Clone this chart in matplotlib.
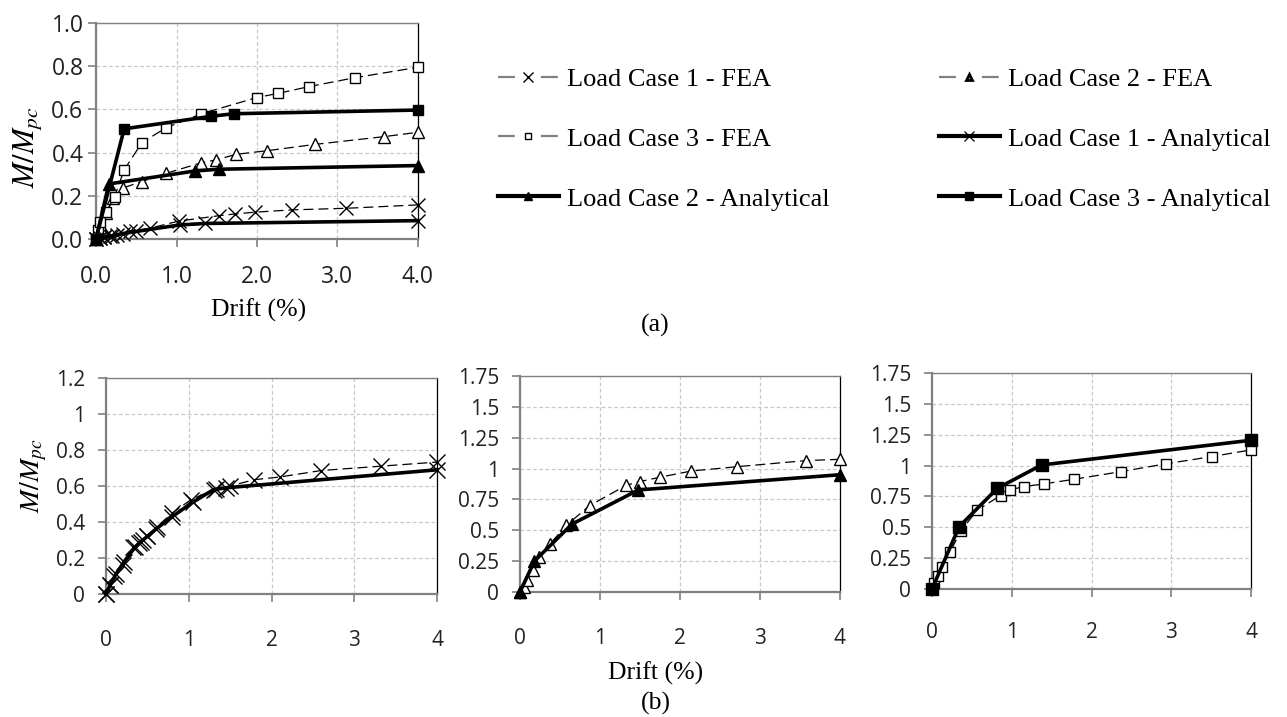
import matplotlib
matplotlib.use("Agg")
import matplotlib.pyplot as plt
from matplotlib.lines import Line2D
from matplotlib.ticker import FixedLocator, FixedFormatter

# ---------------- data ----------------
# (a) all load cases
a_fea1_x = [0, 0.05, 0.1, 0.17, 0.26, 0.42, 0.67, 1.03, 1.53, 1.73, 1.97, 2.44, 3.1, 4.0]
a_fea1_y = [0, 0.005, 0.01, 0.015, 0.02, 0.035, 0.05, 0.083, 0.108, 0.116, 0.124, 0.135, 0.142, 0.158]
a_an1_x = [0, 0.05, 0.1, 0.2, 0.33, 0.5, 1.04, 1.36, 4.0]
a_an1_y = [0, 0.003, 0.008, 0.015, 0.025, 0.035, 0.065, 0.072, 0.085]
a_fea2_x = [0, 0.02, 0.05, 0.13, 0.21, 0.34, 0.57, 0.87, 1.31, 1.49, 1.74, 2.13, 2.72, 3.58, 4.0]
a_fea2_y = [0, 0.03, 0.07, 0.12, 0.19, 0.237, 0.266, 0.304, 0.353, 0.366, 0.392, 0.409, 0.438, 0.474, 0.494]
a_an2_x = [0, 0.16, 1.23, 1.53, 4.0]
a_an2_y = [0, 0.255, 0.315, 0.323, 0.34]
a_fea3_x = [0, 0.02, 0.05, 0.13, 0.23, 0.35, 0.57, 0.87, 1.31, 2.0, 2.26, 2.64, 3.22, 4.0]
a_fea3_y = [0, 0.04, 0.077, 0.125, 0.196, 0.32, 0.446, 0.515, 0.58, 0.655, 0.674, 0.705, 0.747, 0.795]
a_an3_x = [0, 0.35, 1.43, 1.71, 4.0]
a_an3_y = [0, 0.51, 0.568, 0.58, 0.597]

# (b) individual cases (normalised differently)
b_fea1_x = [0, 0.05, 0.1, 0.21, 0.33, 0.4, 0.45, 0.5, 0.62, 0.8, 1.03, 1.33, 1.5, 1.79, 2.1, 2.6, 3.32, 4.0]
b_fea1_y = [0, 0.05, 0.1, 0.16, 0.26, 0.285, 0.3, 0.32, 0.375, 0.45, 0.525, 0.585, 0.6, 0.635, 0.65, 0.686, 0.71, 0.733]
b_an1_x = [0, 0.05, 0.12, 0.22, 0.35, 0.42, 0.5, 0.6, 0.8, 1.05, 1.3, 1.45, 4.0]
b_an1_y = [0, 0.05, 0.11, 0.18, 0.26, 0.29, 0.32, 0.36, 0.43, 0.51, 0.58, 0.59, 0.69]
b_fea2_x = [0, 0.05, 0.09, 0.16, 0.24, 0.375, 0.58, 0.87, 1.33, 1.5, 1.75, 2.14, 2.71, 3.58, 4.0]
b_fea2_y = [0, 0.04, 0.1, 0.18, 0.28, 0.39, 0.54, 0.70, 0.865, 0.895, 0.93, 0.98, 1.015, 1.065, 1.075]
b_an2_x = [0, 0.18, 0.65, 1.48, 4.0]
b_an2_y = [0, 0.25, 0.55, 0.827, 0.95]
b_fea3_x = [0, 0.025, 0.07, 0.12, 0.23, 0.36, 0.57, 0.86, 0.98, 1.15, 1.40, 1.78, 2.37, 2.93, 3.51, 4.0]
b_fea3_y = [0, 0.046, 0.105, 0.181, 0.303, 0.47, 0.64, 0.757, 0.803, 0.83, 0.851, 0.889, 0.951, 1.014, 1.073, 1.127]
b_an3_x = [0, 0.34, 0.82, 1.375, 4.0]
b_an3_y = [0, 0.505, 0.816, 1.005, 1.205]

legend_labels = ["Load Case 1 - FEA", "Load Case 3 - FEA", "Load Case 2 - Analytical",
                 "Load Case 2 - FEA", "Load Case 1 - Analytical", "Load Case 3 - Analytical"]

a_xticks = [0, 1, 2, 3, 4]
a_xticklabels = ["0.0", "1.0", "2.0", "3.0", "4.0"]
a_yticks = [0, 0.2, 0.4, 0.6, 0.8, 1.0]
a_yticklabels = ["0.0", "0.2", "0.4", "0.6", "0.8", "1.0"]
b_xticks = [0, 1, 2, 3, 4]
b_xticklabels = ["0", "1", "2", "3", "4"]
b1_yticks = [0, 0.2, 0.4, 0.6, 0.8, 1.0, 1.2]
b1_yticklabels = ["0", "0.2", "0.4", "0.6", "0.8", "1", "1.2"]
b23_yticks = [0, 0.25, 0.5, 0.75, 1.0, 1.25, 1.5, 1.75]
b23_yticklabels = ["0", "0.25", "0.5", "0.75", "1", "1.25", "1.5", "1.75"]

# ---------------- style ----------------
plt.rcParams["mathtext.fontset"] = "stix"
TICKFONT = "Open Sans"
SERIF = "Liberation Serif"
W, H = 1287, 717
fig = plt.figure(figsize=(W / 100, H / 100), dpi=100)


def ax_rect(l, t, r, b):
    return [l / W, (H - b) / H, (r - l) / W, (b - t) / H]


def style_axes(ax, xt, xtl, yt, ytl, ymax, fs, xpad, ypad):
    ax.set_xlim(0, 4)
    ax.set_ylim(0, ymax)
    ax.xaxis.set_major_locator(FixedLocator(xt))
    ax.xaxis.set_major_formatter(FixedFormatter(xtl))
    ax.yaxis.set_major_locator(FixedLocator(yt))
    ax.yaxis.set_major_formatter(FixedFormatter(ytl))
    ax.grid(True, color="#c8c8c8", linestyle=(0, (3, 2)), linewidth=0.9)
    ax.set_axisbelow(True)
    for s in ("left", "bottom"):
        ax.spines[s].set_color("#808080")
        ax.spines[s].set_linewidth(1.6)
    ax.spines["top"].set_color("#808080")
    ax.spines["top"].set_linewidth(1.0)
    ax.spines["right"].set_color("black")
    ax.spines["right"].set_linewidth(0.9)
    ax.tick_params(axis="x", direction="out", length=6, width=1.2, color="#808080",
                   pad=xpad, labelsize=fs, labelcolor="#222222")
    ax.tick_params(axis="y", direction="out", length=6, width=1.2, color="#808080",
                   pad=ypad, labelsize=fs, labelcolor="#222222")
    for lab in ax.get_xticklabels() + ax.get_yticklabels():
        lab.set_fontfamily(TICKFONT)


fea_kw = dict(color="black", linewidth=0.9, linestyle=(0, (8, 4)), markerfacecolor="white",
              markeredgecolor="black", markeredgewidth=1.0, clip_on=False, zorder=3)
an_kw = dict(color="black", linewidth=2.6, linestyle="-", markerfacecolor="black",
             markeredgecolor="black", markeredgewidth=1.0, clip_on=False, zorder=4)

# ---------------- (a) ----------------
ax_a = fig.add_axes(ax_rect(96, 23, 418, 239))
ax_a.plot(a_fea1_x, a_fea1_y, marker="x", markersize=10, **fea_kw)
ax_a.plot(a_fea2_x, a_fea2_y, marker="^", markersize=8, **fea_kw)
ax_a.plot(a_fea3_x, a_fea3_y, marker="s", markersize=7, **fea_kw)
ax_a.plot(a_an1_x, a_an1_y, marker="x", markersize=10, **an_kw)
ax_a.plot(a_an2_x, a_an2_y, marker="^", markersize=8, **an_kw)
ax_a.plot(a_an3_x, a_an3_y, marker="s", markersize=7, **an_kw)
style_axes(ax_a, a_xticks, a_xticklabels, a_yticks, a_yticklabels, 1.0, 16.5, 13, 3)

fig.text(27 / W, (H - 147) / H, r"$M/M_{pc}$", rotation=90, ha="center", va="center", fontsize=22)
fig.text(259 / W, (H - 310) / H, "Drift (%)", ha="center", va="center", fontsize=18.5, family=SERIF)
fig.text(655 / W, (H - 325) / H, "(a)", ha="center", va="center", fontsize=18.5, family=SERIF)

# legend
fea_leg = dict(color="#808080", linewidth=1.6, linestyle=(0, (7.6, 11.7)), markerfacecolor="white",
               markeredgecolor="black", markeredgewidth=1.0)
an_leg = dict(color="black", linewidth=3.0, linestyle="-", markerfacecolor="black",
              markeredgecolor="black", markeredgewidth=1.0)
h_fea1 = Line2D([], [], marker="x", markersize=7, **fea_leg)
h_fea3 = Line2D([], [], marker="s", markersize=5, **fea_leg)
h_an2 = Line2D([], [], marker="^", markersize=6, **an_leg)
h_fea2 = Line2D([], [], marker="^", markersize=5, **{**fea_leg, "markeredgewidth": 2.0})
h_an1 = Line2D([], [], marker="x", markersize=7, **{**an_leg, "markeredgewidth": 0.9})
h_an3 = Line2D([], [], marker="s", markersize=5.5, **an_leg)

leg_kw = dict(frameon=False, handlelength=2.3, handletextpad=0.33,
              labelspacing=1.38, borderpad=0, borderaxespad=0, loc="center left",
              prop={"family": SERIF, "size": 19})
fig.legend([h_fea1, h_fea3, h_an2], legend_labels[:3],
           bbox_to_anchor=(498 / W, (H - 139) / H), **leg_kw)
fig.legend([h_fea2, h_an1, h_an3], legend_labels[3:],
           bbox_to_anchor=(939 / W, (H - 139) / H), **leg_kw)

# ---------------- (b) ----------------
ax_b1 = fig.add_axes(ax_rect(106, 378, 437, 594))
ax_b1.plot(b_fea1_x, b_fea1_y, marker="x", markersize=11, **fea_kw)
ax_b1.plot(b_an1_x, b_an1_y, marker="x", markersize=11, **an_kw)
style_axes(ax_b1, b_xticks, b_xticklabels, b1_yticks, b1_yticklabels, 1.2, 15, 20, 9)

ax_b2 = fig.add_axes(ax_rect(520, 376, 840, 592))
ax_b2.plot(b_fea2_x, b_fea2_y, marker="^", markersize=8, **fea_kw)
ax_b2.plot(b_an2_x, b_an2_y, marker="^", markersize=8, **an_kw)
style_axes(ax_b2, b_xticks, b_xticklabels, b23_yticks, b23_yticklabels, 1.75, 15, 20, 9)

ax_b3 = fig.add_axes(ax_rect(932, 373, 1251, 589))
ax_b3.plot(b_fea3_x, b_fea3_y, marker="s", markersize=7, **fea_kw)
ax_b3.plot(b_an3_x, b_an3_y, marker="s", markersize=8, **an_kw)
style_axes(ax_b3, b_xticks, b_xticklabels, b23_yticks, b23_yticklabels, 1.75, 15, 18, 9)

fig.text(34 / W, (H - 476) / H, r"$M/M_{pc}$", rotation=90, ha="center", va="center", fontsize=20)
fig.text(656 / W, (H - 673) / H, "Drift (%)", ha="center", va="center", fontsize=18.5, family=SERIF)
fig.text(656 / W, (H - 703) / H, "(b)", ha="center", va="center", fontsize=18.5, family=SERIF)

fig.savefig("out.png", dpi=100, facecolor="white")
